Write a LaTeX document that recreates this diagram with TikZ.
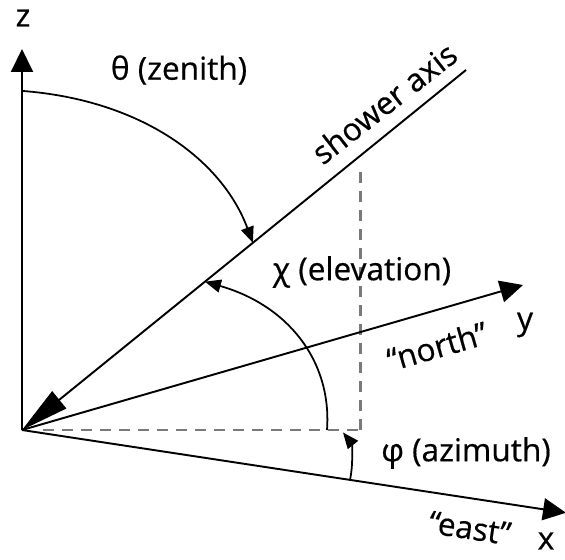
\documentclass[tikz,border=0pt]{standalone}
\usepackage{fontspec}
\setmainfont{Open Sans}
\newfontfamily\lblfont{Open Sans}[RawFeature={embolden=0.5}]
\usetikzlibrary{arrows.meta,calc}
\definecolor{ink}{HTML}{000000}
\definecolor{dashgray}{HTML}{7A7A7A}
\tikzset{
  axisarr/.style={-{Triangle[length=4.6mm,width=4.4mm]},line width=1.1pt,
                  draw=ink},
  showerarr/.style={-{Triangle[length=9.6mm,width=4.4mm]},line width=1.1pt,
                    draw=ink},
  anglearr/.style={-{Triangle[length=3.2mm,width=2.6mm]},line width=1pt,
                   draw=ink},
  projline/.style={draw=dashgray,line width=1.7pt,
                   dash pattern=on 2.2mm off 1.6mm},
  lbl/.style={font=\lblfont\fontsize{18}{22}\selectfont,inner sep=0pt,text=ink}
}
\begin{document}
\begin{tikzpicture}[x=1cm,y=1cm]
    \path[use as bounding box] (-0.44,-2.58) rectangle (10.86,8.6);
    \coordinate (O) at (0,0);
    \coordinate (zend) at (0,7.62);
    \coordinate (axisend) at (8.88,7.2);
    \coordinate (yend) at (10.02,2.9);
    \coordinate (xend) at (10.88,-1.655);
    \coordinate (proj) at ($(O)!0.7613!(axisend)$);
    \coordinate (foot) at (proj |- O);

    \draw[projline,shorten <=4.2mm] (O) -- (foot);
    \draw[projline,shorten >=2mm] (foot) -- (proj);

    \draw[axisarr] (O) -- (zend);
    \draw[axisarr] (O) -- (yend);
    \draw[axisarr] (O) -- (xend);
    \draw[showerarr] (axisend) -- (O);

    \coordinate (thetastart) at ($(O)!0.89!(zend)$);
    \coordinate (thetaend) at ($(O)!0.52!(axisend)$);
    \draw[anglearr] (thetastart) .. controls (2.4,6.6) and (4.0,5.4) .. (thetaend);
    \coordinate (chistart) at (6.1,0);
    \coordinate (chiend) at ($(O)!0.412!(axisend)$);
    \draw[anglearr] (chistart) .. controls (6.2,1.4) and (5.3,2.5) .. (chiend);
    \coordinate (phistart) at ($(O)!0.603!(xend)$);
    \coordinate (phiend) at (6.42,-0.05);
    \draw[anglearr] (phistart) .. controls (6.64,-0.6) and (6.58,-0.25) .. (phiend);

    \node[lbl] (zlabel) at (0.02,8.24) {z};
    \node[lbl] (thetalabel) at (3.14,7.2) {θ (zenith)};
    \node[lbl,rotate=38] (showerlabel) at (7.24,6.54) {shower axis};
    \node[lbl] (chilabel) at (6.8,3.16) {χ (elevation)};
    \node[lbl] (ylabel) at (10.06,2.1) {y};
    \node[lbl,rotate=16] (northlabel) at (8.3,1.68) {“north”};
    \node[lbl] (philabel) at (8.88,-0.46) {φ (azimuth)};
    \node[lbl,rotate=-8.6] (eastlabel) at (8.96,-1.96) {“east”};
    \node[lbl] (xlabel) at (10.48,-2.22) {x};
  \end{tikzpicture}
\end{document}
